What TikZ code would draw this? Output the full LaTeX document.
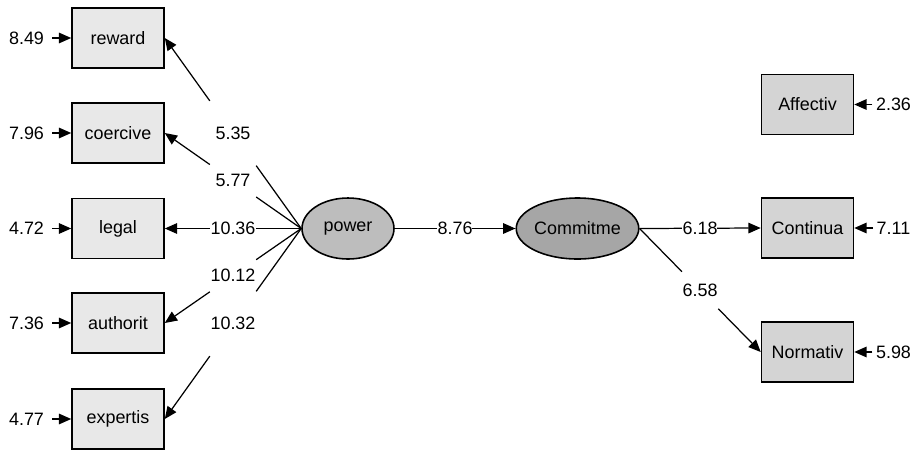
\documentclass[tikz,border=0pt]{standalone}
\usepackage{fontspec}
\setmainfont{Liberation Sans}
\usepackage{tikz}
\usetikzlibrary{calc,arrows.meta,shapes.geometric}
\definecolor{obsgray}{gray}{0.91}
\definecolor{outgray}{gray}{0.83}
\definecolor{powgray}{gray}{0.74}
\definecolor{comgray}{gray}{0.65}

\begin{document}
\begin{tikzpicture}[scale=0.2, font=\fontsize{10.2}{12}\selectfont,
  box/.style={draw=black, line width=0.9pt, minimum width=1.84cm, minimum height=1.2cm},
  latent/.style={ellipse, draw=black, line width=0.9pt, minimum width=1.84cm, minimum height=1.22cm},
  tip/.style={-{Triangle[length=7pt,width=6pt]}},
  every path/.style={line width=0.7pt}]
\tikzstyle{every node}+=[inner sep=0pt]
\useasboundingbox (0,0) rectangle (92.1,-44.9);
% indicators of power
\node [box, fill=obsgray] (reward) at (11.8,-3.8) {reward};
\node [box, fill=obsgray] (coercive) at (11.8,-13.3) {coercive};
\node [box, fill=obsgray] (legal) at (11.8,-22.85) {legal};
\node [box, fill=obsgray] (authorit) at (11.8,-32.3) {authorit};
\node [box, fill=obsgray] (expertis) at (11.8,-41.9) {expertis};
% latent variables
\node [latent, fill=powgray] (power) at (34.8,-22.85) {power};
\node [latent, fill=comgray] (commit) at (57.75,-22.85) {Commitme};
% indicators of commitment
\node [box, fill=outgray] (affectiv) at (80.75,-10.45) {Affectiv};
\node [box, fill=outgray] (continua) at (80.75,-22.8) {Continua};
\node [box, fill=outgray] (normativ) at (80.75,-35.2) {Normativ};
% error terms
\node (ereward) at (2.65,-3.8) {8.49};
\node (ecoercive) at (2.65,-13.3) {7.96};
\node (elegal) at (2.65,-22.85) {4.72};
\node (eauthorit) at (2.65,-32.3) {7.36};
\node (eexpertis) at (2.65,-41.9) {4.77};
\node (eaffectiv) at (89.35,-10.45) {2.36};
\node (econtinua) at (89.35,-22.8) {7.11};
\node (enormativ) at (89.35,-35.2) {5.98};
\draw [black, tip, shorten <=4.5pt] (ereward.east) -- (reward.west);
\draw [black, tip, shorten <=4.5pt] (ecoercive.east) -- (coercive.west);
\draw [black, tip, shorten <=4.5pt] (elegal.east) -- (legal.west);
\draw [black, tip, shorten <=4.5pt] (eauthorit.east) -- (authorit.west);
\draw [black, tip, shorten <=4.5pt] (eexpertis.east) -- (expertis.west);
\draw [black, tip, shorten <=1.7pt] (eaffectiv.west) -- (affectiv.east);
\draw [black, tip, shorten <=1.7pt] (econtinua.west) -- (continua.east);
\draw [black, tip, shorten <=1.7pt] (enormativ.west) -- (normativ.east);
% loadings, each line broken round its value
\draw [black] (power.west) -- ($(power.west)!0.33!(reward.east)$);
\draw [black, tip] ($(power.west)!0.67!(reward.east)$) -- (reward.east);
\node (lreward) at ($(power.west)!0.5!(reward.east)$) {5.35};
\draw [black] (power.west) -- ($(power.west)!0.33!(coercive.east)$);
\draw [black, tip] ($(power.west)!0.67!(coercive.east)$) -- (coercive.east);
\node (lcoercive) at ($(power.west)!0.5!(coercive.east)$) {5.77};
\draw [black] (power.west) -- ($(power.west)!0.33!(legal.east)$);
\draw [black, tip] ($(power.west)!0.67!(legal.east)$) -- (legal.east);
\node (llegal) at ($(power.west)!0.5!(legal.east)$) {10.36};
\draw [black] (power.west) -- ($(power.west)!0.33!(authorit.east)$);
\draw [black, tip] ($(power.west)!0.67!(authorit.east)$) -- (authorit.east);
\node (lauthorit) at ($(power.west)!0.5!(authorit.east)$) {10.12};
\draw [black] (power.west) -- ($(power.west)!0.33!(expertis.east)$);
\draw [black, tip] ($(power.west)!0.67!(expertis.east)$) -- (expertis.east);
\node (lexpertis) at ($(power.west)!0.5!(expertis.east)$) {10.32};
% structural path and commitment loadings
\draw [black] (power.east) -- ($(power.east)!0.35!(commit.west)$);
\draw [black, tip] ($(power.east)!0.64!(commit.west)$) -- (commit.west);
\node (lcommit) at ($(power.east)!0.5!(commit.west)$) {8.76};
\draw [black] (commit.east) -- ($(commit.east)!0.35!(continua.west)$);
\draw [black, tip] ($(commit.east)!0.64!(continua.west)$) -- (continua.west);
\node (lcontinua) at ($(commit.east)!0.5!(continua.west)$) {6.18};
\draw [black] (commit.east) -- ($(commit.east)!0.35!(normativ.west)$);
\draw [black, tip] ($(commit.east)!0.65!(normativ.west)$) -- (normativ.west);
\node (lnormativ) at ($(commit.east)!0.5!(normativ.west)$) {6.58};
\end{tikzpicture}
\end{document}
